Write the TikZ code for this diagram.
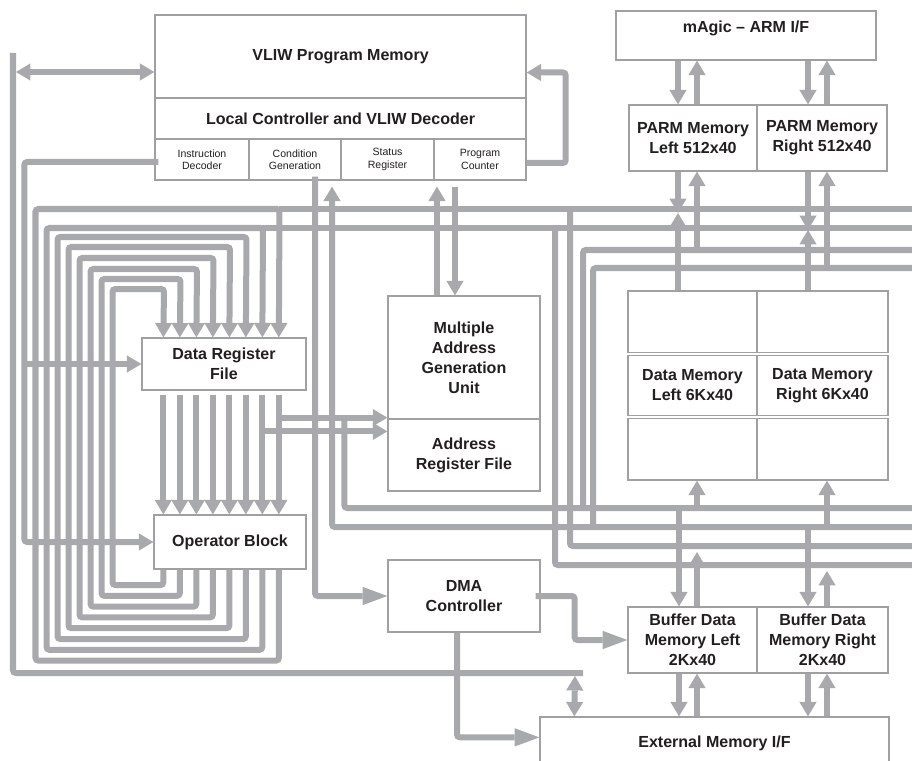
\documentclass[tikz,border=0pt]{standalone}
\usepackage{fontspec}
\setmainfont{Liberation Sans}
\usetikzlibrary{arrows.meta,calc}
\definecolor{wire}{RGB}{167,169,172}
\definecolor{edge}{RGB}{158,160,163}
\definecolor{ink}{RGB}{35,31,32}
\begin{document}
\begin{tikzpicture}[x=0.025cm,y=-0.025cm,
  box/.style={draw=edge,line width=0.9pt,fill=white,inner sep=0pt,align=center,text=ink,
    font=\fontsize{11.4}{14.2}\selectfont\bfseries},
  cell/.style={box,font=\fontsize{7.5}{8.8}\selectfont},
  bus/.style={draw=wire,line width=0.15cm,rounded corners=2pt},
  arr/.style={bus,-{Triangle[width=0.43cm,length=0.36cm,line width=0pt]}},
  darr/.style={bus,{Triangle[width=0.43cm,length=0.36cm,line width=0pt]}-{Triangle[width=0.43cm,length=0.36cm,line width=0pt]}},
  bigarr/.style={bus,-{Triangle[width=0.46cm,length=0.62cm,line width=0pt]}},
  divider/.style={draw=edge,line width=0.7pt,double=white,double distance=0.06cm}]
\clip (0,0) rectangle (912,761);

\node[box,minimum width=9.275cm,minimum height=2.075cm] (pm) at (340.5,56.5) {VLIW Program Memory};
\node[box,minimum width=9.275cm,minimum height=1.025cm] (lc) at (340.5,118.5) {Local Controller and VLIW Decoder};
\node[cell,minimum width=2.35cm,minimum height=1.025cm] (idec) at (202,159.5) {Instruction\\Decoder};
\node[cell,minimum width=2.3cm,minimum height=1.025cm] (cgen) at (295,159.5) {Condition\\Generation};
\node[cell,minimum width=2.325cm,minimum height=1.025cm] (sreg) at (387.5,159.5) {Status\\Register};
\node[cell,minimum width=2.3cm,minimum height=1.025cm] (pcnt) at (480,159.5) {Program\\Counter};

\node[box,minimum width=6.5cm,minimum height=1.225cm,text depth=12pt] (arm) at (746,35.5) {mAgic – ARM I/F};
\node[box,minimum width=3.2cm,minimum height=1.65cm] (parml) at (693,138) {PARM Memory\\Left 512x40};
\node[box,minimum width=3.25cm,minimum height=1.65cm] (parmr) at (822,138) {PARM Memory\\Right 512x40};
\node[box,minimum width=3.225cm,minimum height=4.725cm] (dml) at (692.5,385.5) {Data Memory\\Left 6Kx40};
\node[box,minimum width=3.275cm,minimum height=4.725cm] (dmr) at (822.5,385.5) {Data Memory\\Right 6Kx40};
\node[box,minimum width=3.225cm,minimum height=1.65cm] (bdml) at (692.5,640) {Buffer Data\\Memory Left\\2Kx40};
\node[box,minimum width=3.275cm,minimum height=1.65cm] (bdmr) at (822.5,640) {Buffer Data\\Memory Right\\2Kx40};
\node[box,minimum width=8.725cm,minimum height=1.3cm] (ext) at (714.5,743) {External Memory I/F};

\node[box,minimum width=3.8cm,minimum height=3.075cm] (agu) at (464,357.5) {Multiple\\Address\\Generation\\Unit};
\node[box,minimum width=3.8cm,minimum height=1.8cm] (arf) at (464,455) {Address\\Register File};
\node[box,minimum width=4.1cm,minimum height=1.3cm] (drf) at (224,364) {Data Register\\File};
\node[box,minimum width=3.8cm,minimum height=1.35cm] (opb) at (230,542) {Operator Block};
\node[box,minimum width=3.8cm,minimum height=1.8cm] (dma) at (464,596) {DMA\\Controller};

\foreach \f in {0.333,0.667}{
  \draw[divider] ($(dml.north west)!\f!(dml.south west)$) -- ($(dml.north east)!\f!(dml.south east)$);
  \draw[divider] ($(dmr.north west)!\f!(dmr.south west)$) -- ($(dmr.north east)!\f!(dmr.south east)$);
}

\coordinate (t1) at (912,209);
\coordinate (t2) at (912,228);
\coordinate (t3) at (912,250);
\coordinate (t4) at (912,268);
\coordinate (b1) at (912,508);
\coordinate (b2) at (912,527);
\coordinate (b3) at (912,546);
\coordinate (b4) at (912,565);
\coordinate (sysT) at (13,53);
\coordinate (sysE) at (583,673);
\coordinate (ctl) at ($(opb.west)+(-129,0)$);
\coordinate (pmin) at ($(pm.west)+(0,15.5)$);
\coordinate (pmret) at ($(pm.east)+(0,16)$);
\coordinate (aguin) at ($(agu.south west)+(0,-2)$);
\coordinate (arfin) at ($(arf.north west)+(0,13)$);

\foreach \i/\ty in {0/289,1/279,2/269,3/258,4/247,5/237,6/228,7/209}{
  \coordinate (o\i) at ($(opb.south west)+({10+16.5*\i},0)$);
  \draw[arr] (o\i) |- ({112.5-11*\i},{585+10.8*\i}) |- ({164+16.5*\i},\ty) -- (o\i |- drf.north);
  \draw[arr] ($(o\i |- drf.south)+(0,4)$) -- (o\i |- opb.north);
}

\draw[bus] (sysT) |- (sysE);
\draw[darr] ($(sysT |- pmin)+(3,0)$) -- (pmin);
\draw[darr] ($(sysE)+(-8,3)$) -- ($(ext.north west)+(35,0)$);

\draw[arr] ($(idec.west)+(4,2.5)$) -| (ctl) -- (opb.west);
\draw[arr] (ctl |- drf.west) -- (drf.west);

\draw[arr] ($(pcnt.east)+(0,3.5)$) -| ($(pmret)+(39,0)$) -- (pmret);
\draw[bigarr] ($(cgen.south)+(20,-4)$) |- (dma.west);
\draw[arr] (b2) -| ($(cgen.south)+(37,6)$);
\draw[arr] ($(agu.north)+(-27,0)$) -- ($(pcnt.south)+(-43,6)$);
\draw[arr] ($(pcnt.south)+(-25,6)$) -- ($(agu.north)+(-9,0)$);

\draw[arr] (o7 |- aguin) -- (aguin);
\draw[arr] (o6 |- arfin) -- (arfin);
\draw[bus] ($(o7 |- aguin)+(65.5,0)$) |- (b1);

\draw[bus] (o7 |- t1) -- (t1);
\draw[bus] (o6 |- t2) -- (t2);
\draw[bus] (t3) -| ($(b1)+(-329,0)$);
\draw[bus] (t4) -| ($(b2)+(-319,0)$);
\draw[bus] ($(t1)+(-342,0)$) |- (b3);
\draw[bus] ($(t2)+(-357,0)$) |- (b4);

\draw[arr] ($(arm.south -| parml)+(-15,0)$) -- ($(parml.north)+(-15,0)$);
\draw[arr] ($(parml.north)+(4,0)$) -- ($(arm.south -| parml)+(4,0)$);
\draw[arr] ($(arm.south -| parmr)+(-14,0)$) -- ($(parmr.north)+(-14,0)$);
\draw[arr] ($(parmr.north)+(5,0)$) -- ($(arm.south -| parmr)+(5,0)$);

\draw[arr] ($(parml.south)+(-15,0)$) -- ($(parml.south |- t1)+(-15,4)$);
\draw[arr] ($(dml.north)+(-14.5,0)$) -- ($(dml.north |- t1)+(-14.5,4)$);
\draw[arr] ($(parml.south |- t3)+(4,0)$) -- ($(parml.south)+(4,0)$);
\draw[arr] ($(parmr.south)+(-14,0)$) -- ($(parmr.south |- t2)+(-14,2)$);
\draw[arr] ($(dmr.north)+(-14.5,0)$) -- ($(dmr.north |- t2)+(-14.5,2)$);
\draw[arr] ($(parmr.south |- t4)+(5,0)$) -- ($(parmr.south)+(5,0)$);

\draw[arr] ($(dml.south |- b1)+(4.5,0)$) -- ($(dml.south)+(4.5,0)$);
\draw[arr] ($(dmr.south |- b2)+(4.5,0)$) -- ($(dmr.south)+(4.5,0)$);
\draw[arr] ($(bdml.north |- b1)+(-13.5,0)$) -- ($(bdml.north)+(-13.5,0)$);
\draw[arr] ($(bdml.north)+(4.5,0)$) -- ($(bdml.north |- b3)+(4.5,6)$);
\draw[arr] ($(bdmr.north |- b2)+(-14.5,0)$) -- ($(bdmr.north)+(-14.5,0)$);
\draw[arr] ($(bdmr.north)+(4.5,0)$) -- ($(bdmr.north |- b4)+(4.5,6)$);

\draw[arr] ($(bdml.south)+(-13.5,0)$) -- ($(bdml.south |- ext.north)+(-13.5,0)$);
\draw[arr] ($(bdml.south |- ext.north)+(4.5,0)$) -- ($(bdml.south)+(4.5,0)$);
\draw[arr] ($(bdmr.south)+(-14.5,0)$) -- ($(bdmr.south |- ext.north)+(-14.5,0)$);
\draw[arr] ($(bdmr.south |- ext.north)+(4.5,0)$) -- ($(bdmr.south)+(4.5,0)$);

\draw[bigarr] ($(dma.east)+(-5,0)$) -- ++(39,0) |- (bdml.west);
\draw[bigarr] ($(dma.south)+(-7,0)$) |- ($(ext.north west)+(0,21)$);
\end{tikzpicture}
\end{document}
